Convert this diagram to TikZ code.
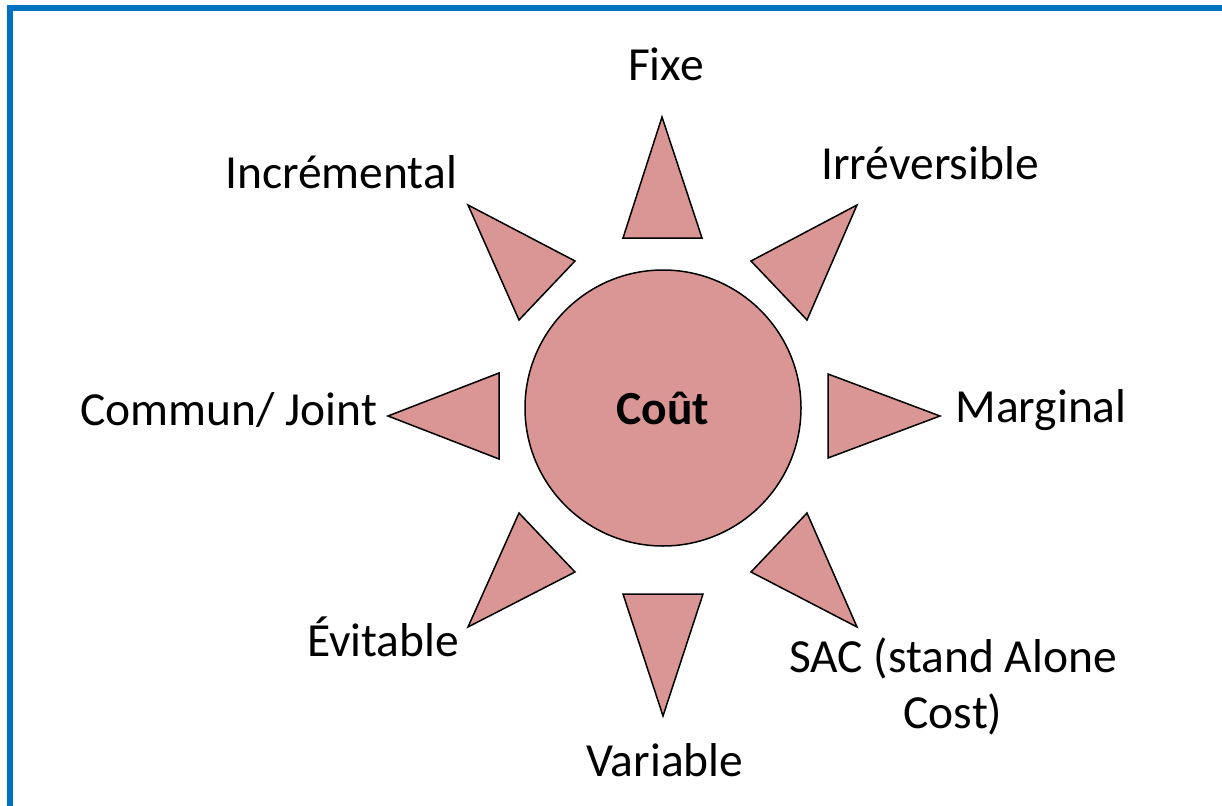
\documentclass[tikz,border=0pt]{standalone}
\usepackage{fontspec}
\setmainfont{Carlito}
\definecolor{rosefill}{HTML}{D99694}
\definecolor{frameblue}{HTML}{0070C0}
\begin{document}
\begin{tikzpicture}[x=1pt,y=-1pt,
  tri/.style={draw=black,line width=1.5pt,fill=rosefill,line join=miter},
  lbl/.style={inner sep=0pt,font=\fontsize{47.5}{56}\selectfont,align=center}]
\useasboundingbox (0,0) rectangle (1222,805);
\fill[white] (0,0) rectangle (1222,805);
\draw[frameblue,line width=6pt] (10,8) -- (1240,8);
\draw[frameblue,line width=6pt] (10,5) -- (10,830);
% centre
\node[circle,draw=black,line width=1.5pt,fill=rosefill,minimum size=276pt,inner sep=0pt,
  font=\fontsize{47.5}{56}\selectfont\bfseries] (c) at (663,408) {Coût};
% rays
\draw[tri] (623,238) -- (702,238) -- (662,117) -- cycle;
\draw[tri] (751,261) -- (807,320) -- (857,205) -- cycle;
\draw[tri] (828,374) -- (828,458) -- (940,416) -- cycle;
\draw[tri] (807,513) -- (751,572) -- (857,627) -- cycle;
\draw[tri] (623,594) -- (703,594) -- (663,716) -- cycle;
\draw[tri] (519,513) -- (575,572) -- (468,627) -- cycle;
\draw[tri] (499,373) -- (499,459) -- (388,416) -- cycle;
\draw[tri] (575,261) -- (519,320) -- (468,205) -- cycle;
% labels
\node[lbl] (fixe) at (666,64) {Fixe};
\node[lbl] (irr) at (930,163) {Irréversible};
\node[lbl] (marg) at (1041,410) {Marginal};
\node[lbl] (sac) at (953,686) {SAC (stand Alone\\Cost)};
\node[lbl] (var) at (665,760) {Variable};
\node[lbl] (evit) at (383,637) {Évitable};
\node[lbl] (comm) at (229,410) {Commun/ Joint};
\node[lbl] (incr) at (341,172) {Incrémental};
\end{tikzpicture}
\end{document}
